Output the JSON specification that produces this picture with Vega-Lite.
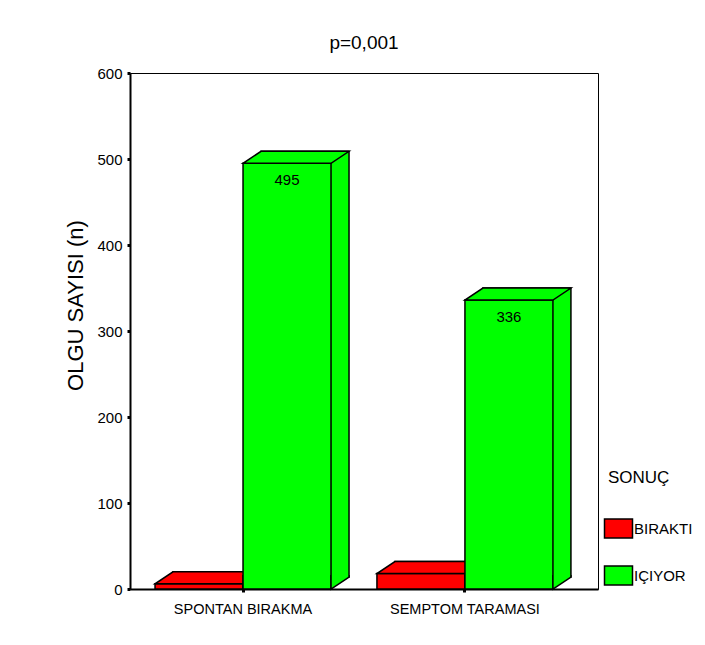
{
  "$schema": "https://vega.github.io/schema/vega-lite/v6.json",
  "width": 468,
  "height": 516,
  "autosize": {"type": "none"},
  "padding": {"left": 130, "top": 73, "right": 107, "bottom": 56},
  "background": "white",
  "config": {"view": {"stroke": "black", "strokeWidth": 1}, "font": "Liberation Sans"},
  "title": {"text": "p=0,001", "fontSize": 19, "fontWeight": "normal", "color": "black", "anchor": "middle", "baseline": "alphabetic", "offset": 25, "dy": 27},
  "data": {"values": [
    {"grup": "SPONTAN BIRAKMA", "sonuc": "BIRAKTI", "n": 6},
    {"grup": "SPONTAN BIRAKMA", "sonuc": "IÇIYOR", "n": 495},
    {"grup": "SEMPTOM TARAMASI", "sonuc": "BIRAKTI", "n": 18},
    {"grup": "SEMPTOM TARAMASI", "sonuc": "IÇIYOR", "n": 336}
  ]},
  "encoding": {
    "x": {"field": "grup", "type": "nominal", "sort": ["SPONTAN BIRAKMA", "SEMPTOM TARAMASI"],
      "scale": {"type": "band", "paddingInner": 0.207, "paddingOuter": 0.158, "align": 0.357},
      "axis": {"title": null, "labelAngle": 0, "labelFontSize": 14.5, "labelColor": "black", "labelPadding": 10, "tickSize": 3, "tickWidth": 3, "tickColor": "black", "domainColor": "black", "domainWidth": 2}},
    "xOffset": {"field": "sonuc", "type": "nominal", "scale": {"type": "band", "domain": ["BIRAKTI", "IÇIYOR"], "range": [0, 176], "paddingInner": 0, "paddingOuter": 0}},
    "y": {"field": "n", "type": "quantitative", "scale": {"domain": [0, 600]},
      "axis": {"title": "OLGU SAYISI (n)", "titleFontSize": 22, "titleFontWeight": "normal", "titleColor": "black", "titleX": -55, "titleY": 232, "titleAngle": 270, "titleBaseline": "middle", "titleAlign": "center",
        "values": [0, 100, 200, 300, 400, 500, 600], "labelFontSize": 15, "labelColor": "black", "labelPadding": 5, "tickSize": 3, "tickWidth": 3, "tickColor": "black", "domainColor": "black", "domainWidth": 2, "grid": false}},
    "color": {"field": "sonuc", "type": "nominal",
      "scale": {"domain": ["BIRAKTI", "IÇIYOR"], "range": ["#ff0000", "#00ff00"]},
      "legend": {"title": "SONUÇ", "titleFontSize": 17, "titleFontWeight": "normal", "titleColor": "black", "labelFontSize": 15, "labelColor": "black",
        "orient": "none", "legendX": 478, "legendY": 397, "symbolType": "M-11,-9.5L17,-9.5L17,9.5L-11,9.5Z", "symbolSize": 4,
        "symbolStrokeColor": "black", "symbolStrokeWidth": 1.5, "symbolOpacity": 1, "labelOffset": 11, "rowPadding": 22, "titlePadding": 34}}
  },
  "resolve": {"scale": {"xOffset": "independent"}},
  "layer": [
    {"transform": [{"filter": "datum.sonuc === 'BIRAKTI'"}],
      "mark": {"type": "bar", "yOffset": -12, "y2Offset": -12, "stroke": "black", "strokeWidth": 1.5},
      "encoding": {"xOffset": {"field": "sonuc", "type": "nominal", "scale": {"type": "band", "domain": ["BIRAKTI", "IÇIYOR"], "range": [18, 194], "paddingInner": 0, "paddingOuter": 0}}}},
    {"transform": [{"filter": "datum.sonuc === 'BIRAKTI'"}],
      "mark": {"type": "bar", "stroke": "black", "strokeWidth": 1.5}},
    {"transform": [{"filter": "datum.sonuc === 'BIRAKTI'"}],
      "mark": {"type": "point", "shape": "M-44,0L44,0L62,-12L-26,-12Z", "size": 4, "filled": true, "opacity": 1, "stroke": "black", "strokeWidth": 1.5}},
    {"transform": [{"filter": "datum.sonuc === 'BIRAKTI'"}],
      "mark": {"type": "point", "shape": "M62,-14L62,-12L44,0L44,-14", "size": 4, "filled": true, "opacity": 1, "stroke": "black", "strokeWidth": 1.5},
      "encoding": {"y": {"datum": 0}}},
    {"transform": [{"filter": "datum.sonuc === 'IÇIYOR'"}],
      "mark": {"type": "bar", "yOffset": -12, "y2Offset": -12, "stroke": "black", "strokeWidth": 1.5},
      "encoding": {"xOffset": {"field": "sonuc", "type": "nominal", "scale": {"type": "band", "domain": ["BIRAKTI", "IÇIYOR"], "range": [18, 194], "paddingInner": 0, "paddingOuter": 0}}}},
    {"transform": [{"filter": "datum.sonuc === 'IÇIYOR'"}],
      "mark": {"type": "bar", "stroke": "black", "strokeWidth": 1.5}},
    {"transform": [{"filter": "datum.sonuc === 'IÇIYOR'"}],
      "mark": {"type": "point", "shape": "M-44,0L44,0L62,-12L-26,-12Z", "size": 4, "filled": true, "opacity": 1, "stroke": "black", "strokeWidth": 1.5}},
    {"transform": [{"filter": "datum.sonuc === 'IÇIYOR'"}],
      "mark": {"type": "point", "shape": "M62,-14L62,-12L44,0L44,-14", "size": 4, "filled": true, "opacity": 1, "stroke": "black", "strokeWidth": 1.5},
      "encoding": {"y": {"datum": 0}}},
    {"transform": [{"filter": "datum.sonuc === 'IÇIYOR'"}],
      "mark": {"type": "text", "dy": 17, "fontSize": 15, "baseline": "middle"},
      "encoding": {"text": {"field": "n", "type": "quantitative"}, "color": {"value": "black"}}}
  ]
}
